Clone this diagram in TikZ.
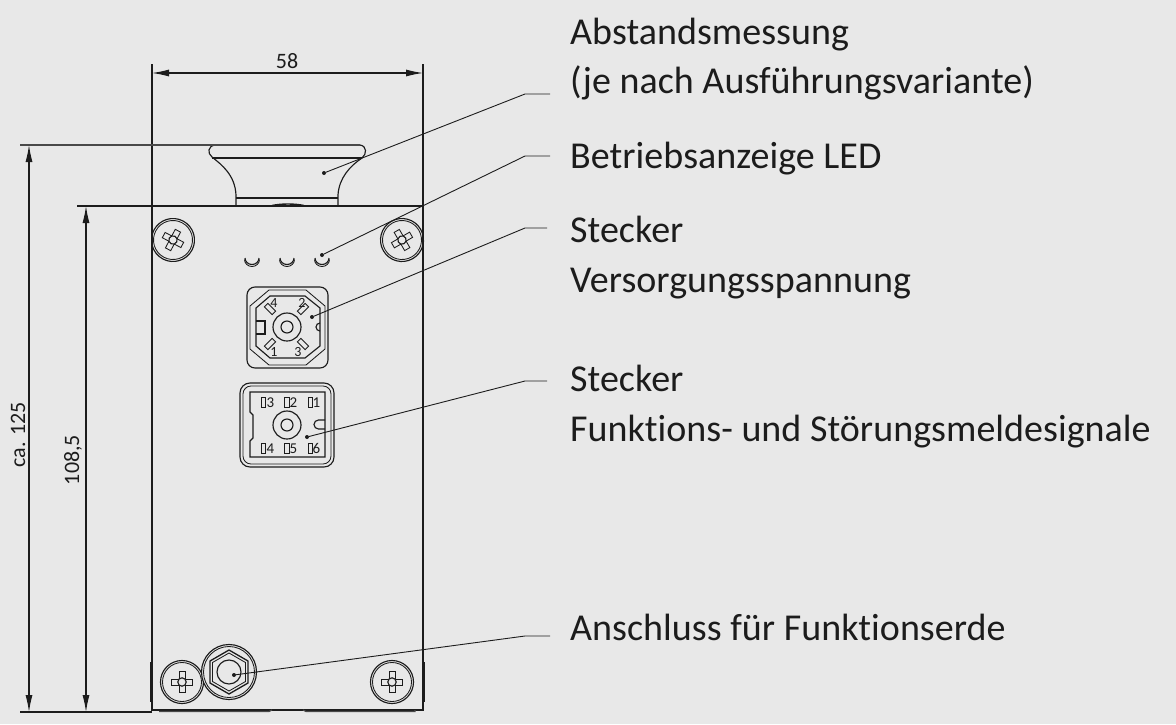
\documentclass[tikz,border=0pt]{standalone}
\usepackage{fontspec}
\setmainfont{Carlito}[LetterSpace=0.1,Ligatures=NoCommon]
\newfontfamily\dimfont{Carlito}
\usetikzlibrary{arrows.meta,calc}
\definecolor{bg}{HTML}{E8E8E8}
\definecolor{ink}{HTML}{1C1C1C}
\tikzset{
 x=1pt,y=-1pt,
 part/.style={draw=ink,line width=1.15pt},
 thin part/.style={draw=ink,line width=.85pt},
 heavy/.style={draw=ink!80,line width=1.7pt},
 dimline/.style={draw=ink,line width=1.05pt},
 dimarrow/.style={draw=ink,line width=1.05pt,{Latex[length=17pt,width=7pt]}-{Latex[length=17pt,width=7pt]}},
 leader/.style={draw=ink,line width=.9pt},
 dot/.style={circle,fill=ink,inner sep=0pt,minimum size=4pt},
 callout/.style={anchor=base west,inner sep=0pt,font=\fontsize{38}{38}\selectfont,text=ink},
 dimtext/.style={inner sep=0pt,font=\dimfont\fontsize{22}{22}\selectfont,text=ink},
 pinno/.style={inner sep=0pt,font=\dimfont\fontsize{14}{14}\selectfont,text=ink},
 pinnob/.style={inner sep=0pt,font=\dimfont\fontsize{15}{15}\selectfont,text=ink},
 screwhead/.pic={
  \draw[part] (0,0) circle (21.5);
  \draw[thin part] (0,0) circle (19.5);
  \draw[thin part] (-3,-10.5) -- (3,-10.5) -- (3,-3) -- (10.5,-3) -- (10.5,3) -- (3,3) -- (3,10.5) -- (-3,10.5) -- (-3,3) -- (-10.5,3) -- (-10.5,-3) -- (-3,-3) -- cycle;
  \draw[part,fill=bg] (0,0) circle (4.2);
 },
 ledmark/.pic={
  \draw[part] (-7,0) arc[start angle=180,end angle=0,x radius=7,y radius=6.5];
  \draw[thin part] (-7.5,1.5) arc[start angle=180,end angle=0,x radius=7.5,y radius=7];
 },
 pin/.pic={\draw[thin part,fill=bg] (-2.5,-5.5) rectangle (2.5,5.5);},
 pinb/.pic={\draw[thin part,fill=bg] (-2.3,-5) rectangle (2.3,5);},
}
\begin{document}
\begin{tikzpicture}
\useasboundingbox[fill=bg] (0,0) rectangle (1176,724);

% named geometry
\coordinate (bodyTL) at (152,206);
\coordinate (bodyTR) at (423,206);
\coordinate (bodyBL) at (152,710);
\coordinate (bodyBR) at (423,710);

% body
\draw[part] (bodyBL) -- (bodyTL) -- (bodyTR) -- (bodyBR) -- cycle;
\draw[part] (151,662) -- (151,702);
\draw[part] (424,662) -- (424,702);
\draw[heavy,line width=1.3pt] (159,711.5) -- (269,711.5) -- (272,710);
\draw[heavy,line width=1.3pt] (303,710) -- (306,711.5) -- (415,711.5) -- (415,710);

% button
\draw[part] (236,206) -- (236,195)
  .. controls (235,175) and (222,165) .. (212,157)
  .. controls (207,153) and (208,146) .. (215,145);
\draw[part] (338,206) -- (338,195)
  .. controls (339,178) and (350,166) .. (362,158)
  .. controls (367,154) and (367,146) .. (360,145);
\draw[part] (212,158) -- (362,158);
\draw[part] (236,198) -- (338,198);
\draw[draw=ink,line width=1.4pt] (272,205.5) .. controls (282,203.5) and (294,203.5) .. (304,205.5);

% screws
\pic[rotate=-28] at (173,240) {screwhead};
\pic[rotate=30] at (402,240) {screwhead};
\pic at (182,682) {screwhead};
\pic at (392,682) {screwhead};

% LED marks
\pic at (252,258) {ledmark};
\pic at (287,258) {ledmark};
\pic at (322,258) {ledmark};

% supply connector
\draw[part] (247,295) arc[start angle=180,end angle=270,radius=8] -- (320,287) arc[start angle=-90,end angle=0,radius=8] -- (328,360) arc[start angle=0,end angle=90,radius=8] -- (255,368) arc[start angle=90,end angle=180,radius=8] -- cycle;
\draw[thin part] (250,306) -- (269,290) -- (306,290) -- (325,306) -- (325,349) -- (306,365) -- (269,365) -- (250,349) -- cycle;
\draw[part] (256,308) -- (270,296) -- (305,296) -- (320,308) -- (320,346) -- (305,358) -- (270,358) -- (256,346) -- cycle;
\draw[part] (256,321) -- (265,321) -- (265,334) -- (256,334);
\draw[part] (320,323) arc[start angle=270,end angle=90,radius=4];
\draw[part] (287,327) circle (14);
\draw[part] (287,327) circle (6);
\pic[rotate=45] at (270,309) {pin};
\pic[rotate=-45] at (303,309) {pin};
\pic[rotate=-45] at (270,344) {pin};
\pic[rotate=45] at (303,344) {pin};
\node[pinno] (n4) at (274,303) {4};
\node[pinno] (n2) at (302,303) {2};
\node[pinno] (n1) at (274,352) {1};
\node[pinno] (n3) at (298,352) {3};

% signal connector
\draw[part] (240,393) arc[start angle=180,end angle=270,radius=10] -- (324,383) arc[start angle=-90,end angle=0,radius=10] -- (334,457) arc[start angle=0,end angle=90,radius=10] -- (250,467) arc[start angle=90,end angle=180,radius=10] -- cycle;
\draw[thin part] (243,394) arc[start angle=180,end angle=270,radius=8] -- (323,386) arc[start angle=-90,end angle=0,radius=8] -- (331,456) arc[start angle=0,end angle=90,radius=8] -- (251,464) arc[start angle=90,end angle=180,radius=8] -- cycle;
\draw[part] (250,392) -- (325,392) -- (325,457) -- (250,457) -- (250,441) -- (253,438) -- (253,415) -- (250,412) -- cycle;
\draw[part] (325,420) -- (318.5,420) arc[start angle=270,end angle=90,radius=4.5] -- (325,429);
\draw[part] (287,425) circle (14);
\draw[part] (287,425) circle (6);
\foreach \px/\py in {263.5/402,287/402,310.5/402,263.5/448,287/448,310.5/448}
  \pic at (\px,\py) {pinb};
\node[pinnob] (m3) at (270.5,402.5) {3};
\node[pinnob] (m2) at (293.5,402.5) {2};
\node[pinnob] (m1) at (316.5,402.5) {1};
\node[pinnob] (m4) at (270.5,448.5) {4};
\node[pinnob] (m5) at (293.5,448.5) {5};
\node[pinnob] (m6) at (316.5,448.5) {6};

% ground terminal
\draw[part,fill=bg] (229,672) circle (27.5);
\draw[thin part] (229,672) circle (25.5);
\draw[part,line width=1.3pt] (229,650) -- (248,661) -- (248,683) -- (229,694) -- (210,683) -- (210,661) -- cycle;
\draw[thin part] (229,653) -- (245.5,662.5) -- (245.5,681.5) -- (229,691) -- (212.5,681.5) -- (212.5,662.5) -- cycle;
\draw[part] (229,672) circle (12);

% dimension extension lines
\coordinate (ext58L) at (152,64);
\coordinate (ext58R) at (423,64);
\draw[dimline] (ext58L) -- (bodyTL);
\draw[dimline] (ext58R) -- (bodyTR);
\coordinate (ext125T) at (20,145);
\coordinate (btnTL) at (215,145);
\coordinate (btnTR) at (360,145);
\coordinate (ext108T) at (77,206);
\coordinate (ext125B) at (20,712);
\coordinate (bodyBLx) at (152,712);
\draw[heavy,line width=1.4pt] (ext125T) -- (btnTL);
\draw[heavy,line width=1.4pt] (btnTL) -- (btnTR);
\draw[dimline] (ext108T) -- (bodyTL);
\draw[dimline,line width=1.2pt] (ext125B) -- (bodyBLx);

% dimensions
\coordinate (d58a) at (152,73);
\coordinate (d58b) at (423,73);
\coordinate (d125a) at (29,145);
\coordinate (d125b) at (29,712);
\coordinate (d108a) at (86,206);
\coordinate (d108b) at (86,712);
\draw[dimarrow] (d58a) -- (d58b);
\draw[dimarrow] (d125a) -- (d125b);
\draw[dimarrow] (d108a) -- (d108b);
\node[dimtext] (t58) at (287,61) {58};
\node[dimtext,rotate=90] (t125) at (18,435) {ca. 125};
\node[dimtext,rotate=90] (t108) at (73,460) {108,5};

% callouts
\node[callout] (c1a) at (570,44) {Abstandsmessung};
\node[callout] (c1b) at (570,93) {(je nach Ausführungsvariante)};
\node[callout] (c2) at (570,168) {Betriebsanzeige LED};
\node[callout] (c3a) at (570,242) {Stecker};
\node[callout] (c3b) at (570,292) {Versorgungsspannung};
\node[callout] (c4a) at (570,391) {Stecker};
\node[callout] (c4b) at (570,441) {Funktions- und Störungsmeldesignale};
\node[callout] (c5) at (570,640) {Anschluss für Funktionserde};

% leaders
\node[dot] (p1) at (324,173) {};
\node[dot] (p2) at (322,255) {};
\node[dot] (p3) at (312,317) {};
\node[dot] (p4) at (307,437) {};
\node[dot] (p5) at (234,675) {};
\coordinate (k1) at (525,94);
\coordinate (e1) at (550,94);
\coordinate (k2) at (525,156);
\coordinate (e2) at (550,156);
\coordinate (k3) at (525,228);
\coordinate (e3) at (547,228);
\coordinate (k4) at (525,381);
\coordinate (e4) at (547,381);
\coordinate (k5) at (525,636);
\coordinate (e5) at (550,636);
\draw[leader] (p1) -- (k1) -- (e1);
\draw[leader] (p2) -- (k2) -- (e2);
\draw[leader] (p3) -- (k3) -- (e3);
\draw[leader] (p4) -- (k4) -- (e4);
\draw[leader] (p5) -- (k5) -- (e5);
\end{tikzpicture}
\end{document}
